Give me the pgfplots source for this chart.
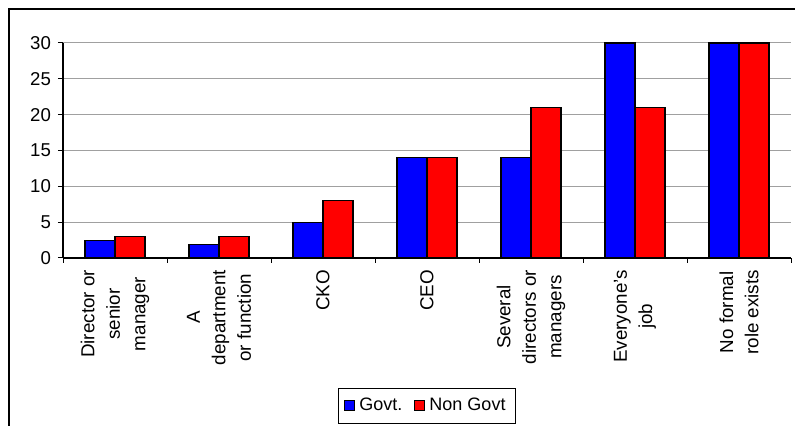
\documentclass[border=0pt]{standalone}
\usepackage{pgfplots}
\pgfplotsset{compat=1.18}
\usepackage{fontspec}
\setmainfont{Liberation Sans}
\definecolor{govt}{RGB}{0,0,255}
\definecolor{nongovt}{RGB}{255,0,0}
\definecolor{gridgray}{RGB}{160,160,160}
\begin{document}
\begin{tikzpicture}
\draw[line width=0.6pt] (4.5pt,0) -- (4.5pt,208.5pt) -- (397.5pt,208.5pt);
\begin{axis}[
  at={(31.5pt,84pt)}, anchor=south west,
  width=364pt, height=107.5pt, scale only axis,
  ybar=0pt, bar width=15pt,
  xmin=-0.5, xmax=6.5, ymin=0, ymax=30,
  ytick={0,5,...,30},
  xtick={0,...,6},
  xticklabels={{Director or\\senior\\manager},{A\\department\\or function},{CKO},{CEO},{Several\\directors or\\managers},{Everyone's\\job},{No formal\\role exists}},
  major x tick style={draw=none},
  minor xtick={-0.5,0.5,...,6.5},
  axis x line*=bottom, axis y line*=left,
  axis line style={black, line width=0.6pt, -},
  ymajorgrids, grid style={gridgray, line width=0.5pt},
  tick align=outside,
  major tick length=2.5pt, minor tick length=2.5pt,
  tick style={black, line width=0.5pt},
  /pgf/number format/assume math mode=true,
  y tick label style={font=\fontsize{9.3}{11}\selectfont},
  x tick label style={rotate=90, anchor=east, align=center, font=\fontsize{9.4}{12.7}\selectfont},
  legend style={at={(0.5,-0.688)}, anchor=center, legend columns=2, draw=black, line width=0.5pt,
    font=\fontsize{9}{10.5}\selectfont, inner sep=2.8pt,
    /tikz/every even column/.append style={column sep=4pt}},
  legend image code/.code={\draw[#1,line width=0.5pt] (0pt,-2.5pt) rectangle (5pt,2.5pt);},
  every axis plot/.append style={draw=black, line width=0.6pt},
]
\addplot[fill=govt] coordinates {(0,2.4) (1,1.9) (2,5) (3,14) (4,14) (5,30) (6,30)};
\addplot[fill=nongovt] coordinates {(0,3) (1,3) (2,8) (3,14) (4,21) (5,21) (6,30)};
\legend{Govt.,Non Govt}
\end{axis}
\pgfresetboundingbox
\path[use as bounding box] (0,0) rectangle (397.5pt,213pt);
\end{tikzpicture}
\end{document}
